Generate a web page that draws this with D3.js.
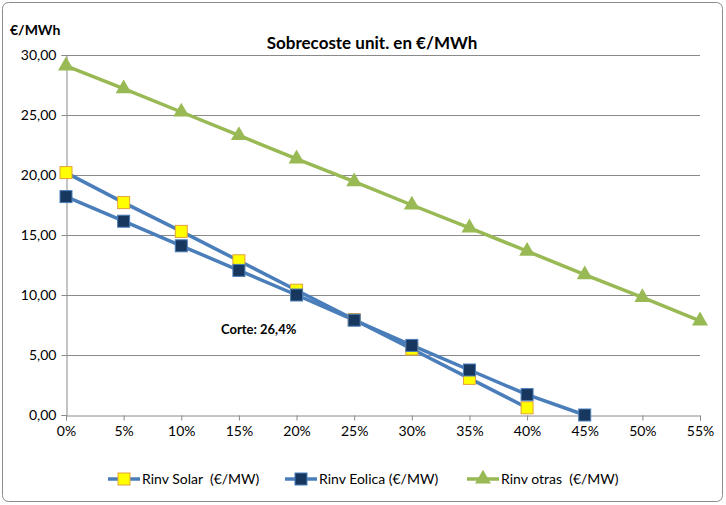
<!DOCTYPE html>
<html><head><meta charset="utf-8">
<script src="https://cdn.jsdelivr.net/npm/d3@7"></script>
<style>
body{margin:0;background:#fff;}
text{font-family:Lato,"Open Sans",sans-serif;}
</style></head>
<body>
<svg id="c" width="726" height="505"></svg>
<script>
const categories = ["0%","5%","10%","15%","20%","25%","30%","35%","40%","45%","50%","55%"];
const solar  = [20.2, 17.7, 15.3, 12.85, 10.4, 7.95, 5.5, 3.05, 0.6];
const eolica = [18.2, 16.15, 14.1, 12.05, 10.0, 7.9, 5.8, 3.75, 1.7, 0.0];
const otras  = [29.1, 27.2, 25.25, 23.3, 21.35, 19.45, 17.5, 15.6, 13.65, 11.7, 9.8, 7.85];
const yTicks = [0,5,10,15,20,25,30];
const seriesNames = ["Rinv Solar  (€/MW)","Rinv Eolica (€/MW)","Rinv otras  (€/MW)"];
const title = "Sobrecoste unit. en €/MWh";
const yUnit = "€/MWh";
const note = "Corte: 26,4%";

const svg = d3.select("#c");
svg.append("rect").attr("x",2.5).attr("y",2.5).attr("width",720).attr("height",499).attr("rx",6)
  .attr("fill","#fff").attr("stroke","#8c8c8c").attr("stroke-width",1);

const x = d3.scalePoint().domain(categories).range([66,700]);
const y = d3.scaleLinear().domain([0,30]).range([415,55]);

// gridlines
svg.append("g").selectAll("line").data(yTicks.filter(d=>d>0)).join("line")
  .attr("x1",66).attr("x2",700).attr("y1",d=>y(d)+0.5).attr("y2",d=>y(d)+0.5)
  .attr("stroke","#8a8a8a").attr("stroke-width",1);

const yAxis = svg.append("g").attr("transform","translate(66.5,0)")
  .call(d3.axisLeft(y).tickValues(yTicks).tickSize(5).tickFormat(d=>d3.format(".2f")(d).replace(".",",")));
const xAxis = svg.append("g").attr("transform","translate(0,415.5)")
  .call(d3.axisBottom(x).tickSize(5).tickPadding(6));
[yAxis,xAxis].forEach(a=>{
  a.select(".domain").attr("stroke","#8a8a8a");
  a.selectAll(".tick line").attr("stroke","#8a8a8a");
  a.selectAll("text").attr("font-size",14).attr("fill","#000").attr("font-family","Lato,'Open Sans',sans-serif");
});
yAxis.selectAll("text").attr("dx",-2);

const line = d3.line().x((d,i)=>x(categories[i])).y(d=>y(d));
const blue = "#4a7ebb";
const green = "#98b954";

function addSeries(data,color){
  svg.append("path").datum(data).attr("d",line).attr("fill","none").attr("stroke",color).attr("stroke-width",3.5)
    .attr("stroke-linejoin","round");
}
addSeries(otras,green);
addSeries(solar,blue);
addSeries(eolica,blue);

function squares(data,fill,stroke){
  svg.append("g").selectAll("rect").data(data).join("rect")
    .attr("x",(d,i)=>x(categories[i])-6).attr("y",d=>y(d)-6).attr("width",12).attr("height",12)
    .attr("fill",fill).attr("stroke",stroke).attr("stroke-width",1);
}
const tri = d3.symbol().type(d3.symbolTriangle).size(110);
svg.append("g").selectAll("path").data(otras).join("path")
  .attr("transform",(d,i)=>`translate(${x(categories[i])},${y(d)})`).attr("d",tri).attr("fill",green);
squares(solar,"#ffff00","#e3a13b");
squares(eolica,"#17375e","#4a7ebb");

svg.append("text").attr("x",372).attr("y",49).attr("text-anchor","middle").attr("font-size",17).attr("font-weight","bold").text(title);
svg.append("text").attr("x",10).attr("y",35).attr("font-size",14).attr("font-weight","bold").text(yUnit);
svg.append("text").attr("x",221).attr("y",334).attr("font-size",13).attr("font-weight","bold").text(note);

// legend
const legX = [108, 285, 467];
const legend = svg.append("g");
seriesNames.forEach((n,i)=>{
  const g = legend.append("g").attr("transform",`translate(${legX[i]},479)`);
  g.append("line").attr("x1",0).attr("x2",32).attr("stroke",i===2?green:blue).attr("stroke-width",3.5);
  if(i===0) g.append("rect").attr("x",10).attr("y",-6).attr("width",12).attr("height",12).attr("fill","#ffff00").attr("stroke","#e3a13b");
  if(i===1) g.append("rect").attr("x",10).attr("y",-6).attr("width",12).attr("height",12).attr("fill","#17375e").attr("stroke","#4a7ebb");
  if(i===2) g.append("path").attr("transform","translate(16,0)").attr("d",tri).attr("fill",green);
  g.append("text").attr("x",34).attr("y",5).attr("font-size",14).attr("xml:space","preserve").text(n);
});
</script>
</body></html>
